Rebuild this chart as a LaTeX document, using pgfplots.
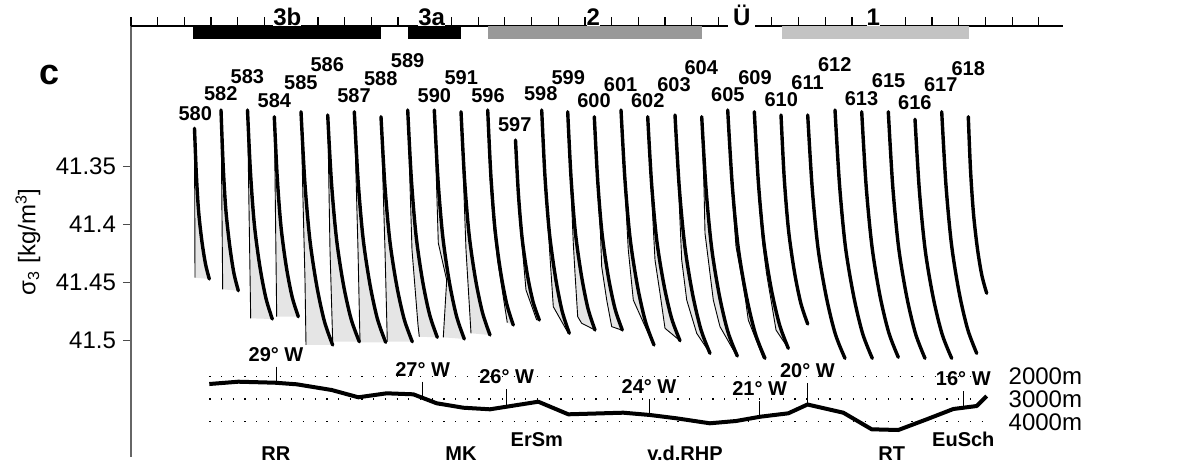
\documentclass[border=0pt]{standalone}
\usepackage{fontspec}
\setmainfont{Liberation Sans}
\usepackage{pgfplots}
\pgfplotsset{compat=1.18}
\definecolor{shadegray}{gray}{0.9}
\definecolor{barmid}{RGB}{153,153,153}
\definecolor{barlight}{RGB}{195,195,195}
\begin{document}
\begin{tikzpicture}
\pgfplotsset{
 prof/.style={black, line width=1.7pt, line join=round, line cap=round, smooth, mark=none},
 thinp/.style={black, line width=0.45pt, mark=none},
 shd/.style={fill=shadegray, draw=none, mark=none},
}
\tikzset{
 stl/.style={font=\bfseries\fontsize{10}{12}\selectfont, inner sep=0pt},
 toplab/.style={anchor=base, fill=white, inner xsep=0pt, inner ysep=0pt, font=\bfseries\fontsize{12}{14}\selectfont},
 lonlab/.style={anchor=south, inner xsep=0pt, inner ysep=2.5pt, font=\bfseries\fontsize{10}{12}\selectfont},
 reglab/.style={anchor=base, inner sep=0pt, font=\bfseries\fontsize{10}{12}\selectfont},
 deplab/.style={anchor=west, inner sep=0pt, font=\fontsize{12}{13}\selectfont},
}
\begin{axis}[
  scale only axis, width=466pt, height=215.5pt,
  xmin=131, xmax=1063, ymin=41.228707, ymax=41.600259, y dir=reverse,
  axis x line=none, axis y line*=left,
  xtick=\empty,
  ytick={41.35,41.4,41.45,41.5}, yticklabels={41.35,41.4,41.45,41.5},
  tick align=outside, major tick length=4pt,
  y axis line style={black!60, line width=0.6pt},
  ytick style={black!70, line width=0.6pt},
  yticklabel style={font=\fontsize{12}{14}\selectfont},
  clip=false,
]
% bounding box corners
\coordinate (BBtl) at (axis cs:0,41.20629);
\coordinate (BBbr) at (axis cs:1187,41.60629);
% top scale
\draw[line width=0.6pt] (axis cs:131,41.228707) -- (axis cs:1063.3,41.228707);
\pgfplotsinvokeforeach{0,...,34}{\draw[line width=0.6pt] (axis cs:{131+26.7*#1},41.228707) -- ++(0pt,4.35pt);}
\node[toplab] at (axis cs:287.3,41.228707) {3b};
\node[toplab] at (axis cs:431.7,41.228707) {3a};
\node[toplab] at (axis cs:593.3,41.228707) {2};
\node[toplab, inner xsep=2.5pt, inner ysep=1pt] at (axis cs:741.7,41.228707) {Ü};
\node[toplab] at (axis cs:873.3,41.228707) {1};
\addplot[fill=black, draw=none] coordinates {(193.3,41.228707) (380.7,41.228707) (380.7,41.24017) (193.3,41.24017)} -- cycle;
\addplot[fill=black, draw=none] coordinates {(407.7,41.228707) (460.7,41.228707) (460.7,41.24017) (407.7,41.24017)} -- cycle;
\addplot[fill=barmid, draw=none] coordinates {(487.7,41.228707) (701.7,41.228707) (701.7,41.24017) (487.7,41.24017)} -- cycle;
\addplot[fill=barlight, draw=none] coordinates {(782.3,41.228707) (969.0,41.228707) (969.0,41.24017) (782.3,41.24017)} -- cycle;

% ---------- shaded areas ----------
\addplot[shd] coordinates {(194.5,41.3169) (196.3,41.3559) (198.6,41.3884) (201.9,41.4143) (205.5,41.4338) (209.3,41.4468) (195.0,41.4457)} -- cycle;
\addplot[shd] coordinates {(221.0,41.3011) (223.1,41.3479) (225.8,41.3868) (229.7,41.4180) (233.8,41.4413) (238.3,41.4569) (222.7,41.4557)} -- cycle;
\addplot[shd] coordinates {(247.5,41.3011) (250.5,41.3552) (254.4,41.4002) (259.9,41.4362) (265.9,41.4633) (272.3,41.4813) (250.7,41.4807)} -- cycle;
\addplot[shd] coordinates {(274.3,41.3069) (277.2,41.3586) (281.0,41.4017) (286.3,41.4362) (292.1,41.4621) (298.3,41.4793) (276.7,41.4793)} -- cycle;
\addplot[shd] coordinates {(301.0,41.3026) (304.8,41.3629) (309.9,41.4132) (316.9,41.4534) (324.5,41.4836) (332.7,41.5037) (306.0,41.5037) (305.0,41.4477) (303.0,41.3787)} -- cycle;
\addplot[shd] coordinates {(327.7,41.3054) (331.5,41.3641) (336.6,41.4129) (343.5,41.4520) (351.1,41.4813) (359.3,41.5009) (332.7,41.5009) (330.0,41.4218)} -- cycle;
\addplot[shd] coordinates {(354.3,41.3026) (358.1,41.3622) (363.1,41.4119) (370.0,41.4517) (377.5,41.4815) (385.7,41.5014) (360.0,41.5014) (358.0,41.4218)} -- cycle;
\addplot[shd] coordinates {(381.0,41.3069) (384.8,41.3651) (389.8,41.4136) (396.7,41.4524) (404.2,41.4815) (412.3,41.5009) (387.3,41.5009) (385.0,41.4218)} -- cycle;
\addplot[shd] coordinates {(407.7,41.3011) (411.3,41.3599) (416.0,41.4089) (422.5,41.4481) (429.6,41.4775) (437.3,41.4971) (419.3,41.4966) (418.0,41.4865) (412.0,41.4218)} -- cycle;
\addplot[shd] coordinates {(434.3,41.3011) (437.9,41.3603) (442.7,41.4097) (449.3,41.4492) (456.5,41.4788) (464.3,41.4985) (443.3,41.4971) (446.7,41.4477) (438.3,41.4158)} -- cycle;
\addplot[shd] coordinates {(461.0,41.3026) (464.5,41.3603) (469.1,41.4085) (475.5,41.4470) (482.5,41.4758) (490.0,41.4951) (471.0,41.4936) (466.0,41.4218)} -- cycle;
\addplot[shd] coordinates {(487.7,41.3011) (490.8,41.3567) (494.9,41.4031) (500.5,41.4401) (506.6,41.4679) (513.3,41.4865) (507.3,41.4845) (497.5,41.4304) (493.8,41.4031) (489.8,41.3567)} -- cycle;
\addplot[shd] coordinates {(515.5,41.3270) (518.4,41.3735) (522.2,41.4123) (527.4,41.4434) (533.1,41.4666) (539.3,41.4822) (536.7,41.4822) (526.0,41.4563) (521.5,41.4123) (518.0,41.3735)} -- cycle;
\addplot[shd] coordinates {(541.7,41.3011) (545.0,41.3589) (549.4,41.4070) (555.5,41.4455) (562.1,41.4744) (569.3,41.4936) (568.3,41.4936) (553.3,41.4707) (550.0,41.4276) (548.5,41.4070) (544.5,41.3589)} -- cycle;
\addplot[shd] coordinates {(567.7,41.3026) (571.0,41.3590) (575.3,41.4061) (581.4,41.4437) (587.9,41.4720) (595.0,41.4908) (581.7,41.4850) (577.7,41.4793) (575.0,41.4419) (573.3,41.4160) (570.5,41.3590)} -- cycle;
\addplot[shd] coordinates {(594.3,41.3069) (597.7,41.3621) (602.1,41.4080) (608.3,41.4448) (615.0,41.4724) (622.3,41.4908) (621.7,41.4908) (611.7,41.4879) (606.7,41.4649) (601.7,41.4362) (600.5,41.4080) (597.2,41.3621)} -- cycle;
\addplot[shd] coordinates {(621.0,41.3011) (625.0,41.3619) (630.2,41.4125) (637.5,41.4531) (645.4,41.4834) (654.0,41.5037) (653.3,41.5037) (646.7,41.4908) (633.3,41.4649) (628.3,41.4218) (624.5,41.3619)} -- cycle;
\addplot[shd] coordinates {(647.7,41.3069) (651.6,41.3648) (656.7,41.4131) (663.9,41.4517) (671.6,41.4807) (680.0,41.5000) (665.0,41.4893) (660.0,41.4591) (655.0,41.4304) (651.0,41.3648)} -- cycle;
\addplot[shd] coordinates {(675.0,41.3054) (679.2,41.3671) (684.8,41.4184) (692.5,41.4595) (700.9,41.4903) (710.0,41.5109) (696.7,41.4936) (686.7,41.4649) (681.7,41.4304) (678.5,41.3671)} -- cycle;
\addplot[shd] coordinates {(701.7,41.3069) (706.0,41.3688) (711.7,41.4204) (719.5,41.4616) (728.0,41.4926) (737.3,41.5132) (736.7,41.5132) (720.0,41.4879) (713.3,41.4649) (705.0,41.4074) (704.0,41.3688)} -- cycle;
\addplot[shd] coordinates {(727.7,41.3011) (732.2,41.3653) (738.1,41.4189) (746.4,41.4617) (755.3,41.4938) (765.0,41.5152) (763.3,41.5152) (748.3,41.4822) (745.5,41.4649) (741.5,41.4448) (736.0,41.4189) (731.5,41.3653)} -- cycle;
\addplot[shd] coordinates {(754.3,41.3026) (758.4,41.3638) (763.8,41.4148) (771.3,41.4556) (779.5,41.4862) (788.3,41.5066) (776.0,41.4908) (771.0,41.4649) (766.5,41.4419) (762.5,41.4148) (757.8,41.3638)} -- cycle;

% ---------- thin reference profiles ----------
\addplot[thinp] coordinates {(194.5,41.3169) (195.0,41.4457)};
\addplot[thinp] coordinates {(221.0,41.3011) (222.7,41.4557)};
\addplot[thinp] coordinates {(247.5,41.3011) (250.7,41.4807)};
\addplot[thinp] coordinates {(274.3,41.3069) (276.7,41.4793)};
\addplot[thinp] coordinates {(301.0,41.3026) (303.0,41.3787) (305.0,41.4477) (306.0,41.5037)};
\addplot[thinp] coordinates {(327.7,41.3054) (330.0,41.4218) (332.7,41.5009)};
\addplot[thinp] coordinates {(354.3,41.3026) (358.0,41.4218) (360.0,41.5014)};
\addplot[thinp] coordinates {(381.0,41.3069) (385.0,41.4218) (387.3,41.5009)};
\addplot[thinp] coordinates {(407.7,41.3011) (412.0,41.4218) (418.0,41.4865) (419.3,41.4966)};
\addplot[thinp] coordinates {(434.3,41.3011) (438.3,41.4158) (446.7,41.4477) (443.3,41.4971)};
\addplot[thinp] coordinates {(461.0,41.3026) (466.0,41.4218) (471.0,41.4936)};
\addplot[thinp] coordinates {(487.7,41.3011) (489.8,41.3567) (493.8,41.4031) (497.5,41.4304) (507.3,41.4845)};
\addplot[thinp] coordinates {(515.5,41.3270) (518.0,41.3735) (521.5,41.4123) (526.0,41.4563) (536.7,41.4822)};
\addplot[thinp] coordinates {(541.7,41.3011) (544.5,41.3589) (548.5,41.4070) (550.0,41.4276) (553.3,41.4707) (568.3,41.4936)};
\addplot[thinp] coordinates {(567.7,41.3026) (570.5,41.3590) (573.3,41.4160) (575.0,41.4419) (577.7,41.4793) (581.7,41.4850) (595.0,41.4908)};
\addplot[thinp] coordinates {(594.3,41.3069) (597.2,41.3621) (600.5,41.4080) (601.7,41.4362) (606.7,41.4649) (611.7,41.4879) (621.7,41.4908)};
\addplot[thinp] coordinates {(621.0,41.3011) (624.5,41.3619) (628.3,41.4218) (633.3,41.4649) (646.7,41.4908) (653.3,41.5037)};
\addplot[thinp] coordinates {(647.7,41.3069) (651.0,41.3648) (655.0,41.4304) (660.0,41.4591) (665.0,41.4893) (680.0,41.5000)};
\addplot[thinp] coordinates {(675.0,41.3054) (678.5,41.3671) (681.7,41.4304) (686.7,41.4649) (696.7,41.4936) (710.0,41.5109)};
\addplot[thinp] coordinates {(701.7,41.3069) (704.0,41.3688) (705.0,41.4074) (713.3,41.4649) (720.0,41.4879) (736.7,41.5132)};
\addplot[thinp] coordinates {(727.7,41.3011) (731.5,41.3653) (736.0,41.4189) (741.5,41.4448) (745.5,41.4649) (748.3,41.4822) (763.3,41.5152)};
\addplot[thinp] coordinates {(754.3,41.3026) (757.8,41.3638) (762.5,41.4148) (766.5,41.4419) (771.0,41.4649) (776.0,41.4908) (788.3,41.5066)};

% ---------- thick profiles ----------
\addplot[prof] coordinates {(194.5,41.3169) (196.3,41.3559) (198.6,41.3884) (201.9,41.4143) (205.5,41.4338) (209.3,41.4468)};
\addplot[prof] coordinates {(221.0,41.3011) (223.1,41.3479) (225.8,41.3868) (229.7,41.4180) (233.8,41.4413) (238.3,41.4569)};
\addplot[prof] coordinates {(247.5,41.3011) (250.5,41.3552) (254.4,41.4002) (259.9,41.4362) (265.9,41.4633) (272.3,41.4813)};
\addplot[prof] coordinates {(274.3,41.3069) (277.2,41.3586) (281.0,41.4017) (286.3,41.4362) (292.1,41.4621) (298.3,41.4793)};
\addplot[prof] coordinates {(301.0,41.3026) (304.8,41.3629) (309.9,41.4132) (316.9,41.4534) (324.5,41.4836) (332.7,41.5037)};
\addplot[prof] coordinates {(327.7,41.3054) (331.5,41.3641) (336.6,41.4129) (343.5,41.4520) (351.1,41.4813) (359.3,41.5009)};
\addplot[prof] coordinates {(354.3,41.3026) (358.1,41.3622) (363.1,41.4119) (370.0,41.4517) (377.5,41.4815) (385.7,41.5014)};
\addplot[prof] coordinates {(381.0,41.3069) (384.8,41.3651) (389.8,41.4136) (396.7,41.4524) (404.2,41.4815) (412.3,41.5009)};
\addplot[prof] coordinates {(407.7,41.3011) (411.3,41.3599) (416.0,41.4089) (422.5,41.4481) (429.6,41.4775) (437.3,41.4971)};
\addplot[prof] coordinates {(434.3,41.3011) (437.9,41.3603) (442.7,41.4097) (449.3,41.4492) (456.5,41.4788) (464.3,41.4985)};
\addplot[prof] coordinates {(461.0,41.3026) (464.5,41.3603) (469.1,41.4085) (475.5,41.4470) (482.5,41.4758) (490.0,41.4951)};
\addplot[prof] coordinates {(487.7,41.3011) (490.8,41.3567) (494.9,41.4031) (500.5,41.4401) (506.6,41.4679) (513.3,41.4865)};
\addplot[prof] coordinates {(515.5,41.3270) (518.4,41.3735) (522.2,41.4123) (527.4,41.4434) (533.1,41.4666) (539.3,41.4822)};
\addplot[prof] coordinates {(541.7,41.3011) (545.0,41.3589) (549.4,41.4070) (555.5,41.4455) (562.1,41.4744) (569.3,41.4936)};
\addplot[prof] coordinates {(567.7,41.3026) (571.0,41.3590) (575.3,41.4061) (581.4,41.4437) (587.9,41.4720) (595.0,41.4908)};
\addplot[prof] coordinates {(594.3,41.3069) (597.7,41.3621) (602.1,41.4080) (608.3,41.4448) (615.0,41.4724) (622.3,41.4908)};
\addplot[prof] coordinates {(621.0,41.3011) (625.0,41.3619) (630.2,41.4125) (637.5,41.4531) (645.4,41.4834) (654.0,41.5037)};
\addplot[prof] coordinates {(647.7,41.3069) (651.6,41.3648) (656.7,41.4131) (663.9,41.4517) (671.6,41.4807) (680.0,41.5000)};
\addplot[prof] coordinates {(675.0,41.3054) (679.2,41.3671) (684.8,41.4184) (692.5,41.4595) (700.9,41.4903) (710.0,41.5109)};
\addplot[prof] coordinates {(701.7,41.3069) (706.0,41.3688) (711.7,41.4204) (719.5,41.4616) (728.0,41.4926) (737.3,41.5132)};
\addplot[prof] coordinates {(727.7,41.3011) (732.2,41.3653) (738.1,41.4189) (746.4,41.4617) (755.3,41.4938) (765.0,41.5152)};
\addplot[prof] coordinates {(754.3,41.3026) (758.4,41.3638) (763.8,41.4148) (771.3,41.4556) (779.5,41.4862) (788.3,41.5066)};
\addplot[prof] coordinates {(781.0,41.3054) (784.2,41.3595) (788.5,41.4045) (794.4,41.4406) (800.8,41.4676) (807.7,41.4856)};
\addplot[prof] coordinates {(807.7,41.3054) (812.2,41.3684) (818.1,41.4208) (826.4,41.4627) (835.3,41.4942) (845.0,41.5152)};
\addplot[prof] coordinates {(835.0,41.3011) (839.5,41.3653) (845.4,41.4189) (853.7,41.4617) (862.6,41.4938) (872.3,41.5152)};
\addplot[prof] coordinates {(861.7,41.3026) (866.1,41.3661) (872.0,41.4190) (880.0,41.4614) (888.8,41.4931) (898.3,41.5143)};
\addplot[prof] coordinates {(888.3,41.3026) (892.7,41.3664) (898.6,41.4195) (906.7,41.4620) (915.5,41.4939) (925.0,41.5152)};
\addplot[prof] coordinates {(915.0,41.3091) (919.4,41.3709) (925.3,41.4225) (933.4,41.4637) (942.2,41.4946) (951.7,41.5152)};
\addplot[prof] coordinates {(941.7,41.3026) (945.9,41.3651) (951.5,41.4171) (959.2,41.4588) (967.6,41.4900) (976.7,41.5109)};
\addplot[prof] coordinates {(968.3,41.3069) (970.5,41.3526) (973.5,41.3906) (977.5,41.4211) (981.9,41.4439) (986.7,41.4591)};

% ---------- station labels ----------
\node[stl] at (axis cs:195.2,41.30457) {580};
\node[stl] at (axis cs:220.8,41.28672) {582};
\node[stl] at (axis cs:247.4,41.27240) {583};
\node[stl] at (axis cs:274.4,41.29310) {584};
\node[stl] at (axis cs:300.9,41.27758) {585};
\node[stl] at (axis cs:327.3,41.26232) {586};
\node[stl] at (axis cs:354.0,41.28879) {587};
\node[stl] at (axis cs:380.8,41.27439) {588};
\node[stl] at (axis cs:407.6,41.25862) {589};
\node[stl] at (axis cs:434.4,41.28879) {590};
\node[stl] at (axis cs:461.2,41.27293) {591};
\node[stl] at (axis cs:488.0,41.28879) {596};
\node[stl] at (axis cs:514.7,41.31405) {597};
\node[stl] at (axis cs:540.8,41.28672) {598};
\node[stl] at (axis cs:568.3,41.27327) {599};
\node[stl] at (axis cs:594.0,41.29293) {600};
\node[stl] at (axis cs:620.6,41.27896) {601};
\node[stl] at (axis cs:647.8,41.29336) {602};
\node[stl] at (axis cs:674.0,41.27896) {603};
\node[stl] at (axis cs:701.2,41.26465) {604};
\node[stl] at (axis cs:727.9,41.28819) {605};
\node[stl] at (axis cs:755.0,41.27327) {609};
\node[stl] at (axis cs:781.3,41.29250) {610};
\node[stl] at (axis cs:807.6,41.27724) {611};
\node[stl] at (axis cs:834.7,41.26232) {612};
\node[stl] at (axis cs:861.5,41.29103) {613};
\node[stl] at (axis cs:888.6,41.27586) {615};
\node[stl] at (axis cs:914.9,41.29448) {616};
\node[stl] at (axis cs:940.8,41.27957) {617};
\node[stl] at (axis cs:968.3,41.26517) {618};

\node[font=\bfseries\fontsize{18}{20}\selectfont, inner sep=0pt] at (axis cs:49.8,41.27095) {c};
\node[rotate=90, font=\fontsize{12}{14}\selectfont, inner sep=0pt] at (axis cs:28,41.41465) {σ\textsubscript{3} [kg/m\textsuperscript{3}]};
\end{axis}

\begin{axis}[
  scale only axis, width=466pt, height=215.5pt,
  xmin=131, xmax=1063, ymin=-13393.4, ymax=5551.6, y dir=reverse,
  hide axis, clip=false,
]
\addplot[black, line width=0.6pt, dash pattern=on 0.6pt off 5.25pt, mark=none] coordinates {(209.3,2000) (985,2000)};
\addplot[black, line width=0.6pt, dash pattern=on 0.6pt off 5.25pt, mark=none] coordinates {(209.3,3000) (985,3000)};
\addplot[black, line width=0.6pt, dash pattern=on 0.6pt off 5.25pt, mark=none] coordinates {(209.3,4000) (985,4000)};
\addplot[black, line width=2pt, line join=round, mark=none] coordinates {(209.3,2343) (238.3,2242) (275,2286) (296.7,2356) (331.7,2607) (358.3,2927) (386.7,2752) (413.3,2796) (436.7,3191) (463.3,3385) (490,3455) (538.3,3121) (568.3,3675) (623.3,3604) (650,3705) (676.6,3851) (709.8,4070) (736,3969) (760.4,3780) (788.3,3631) (807.5,3244) (843.3,3604) (871.7,4334) (898.3,4365) (926.7,3895) (953.3,3442) (976.7,3310) (986.7,2870)};
% longitude ticks
\draw[line width=0.5pt] (axis cs:276,1582) -- (axis cs:276,2290);
\draw[line width=0.5pt] (axis cs:422.7,2242) -- (axis cs:422.7,2955);
\draw[line width=0.5pt] (axis cs:506.7,2576) -- (axis cs:506.7,3340);
\draw[line width=0.5pt] (axis cs:649,3015) -- (axis cs:649,3700);
\draw[line width=0.5pt] (axis cs:759.7,3090) -- (axis cs:759.7,3785);
\draw[line width=0.5pt] (axis cs:807.4,2312) -- (axis cs:807.4,3244);
\draw[line width=0.5pt] (axis cs:963.3,2651) -- (axis cs:963.3,3386);
\node[lonlab] at (axis cs:276,1582) {29° W};
\node[lonlab] at (axis cs:422.7,2242) {27° W};
\node[lonlab] at (axis cs:506.7,2576) {26° W};
\node[lonlab] at (axis cs:649,3015) {24° W};
\node[lonlab] at (axis cs:759.7,3090) {21° W};
\node[lonlab] at (axis cs:807.4,2312) {20° W};
\node[lonlab] at (axis cs:963.3,2651) {16° W};
% depth labels
\node[deplab] at (axis cs:1008.3,2000) {2000m};
\node[deplab] at (axis cs:1008.3,3030) {3000m};
\node[deplab] at (axis cs:1008.3,4030) {4000m};
% region names
\node[reglab] at (axis cs:275.8,5727) {RR};
\node[reglab] at (axis cs:461,5727) {MK};
\node[reglab] at (axis cs:536.8,5099) {ErSm};
\node[reglab] at (axis cs:685,5727) {v.d.RHP};
\node[reglab] at (axis cs:891.7,5727) {RT};
\node[reglab] at (axis cs:963.3,5099) {EuSch};
\end{axis}
\pgfresetboundingbox
\useasboundingbox (BBtl) rectangle (BBbr);
\end{tikzpicture}
\end{document}
